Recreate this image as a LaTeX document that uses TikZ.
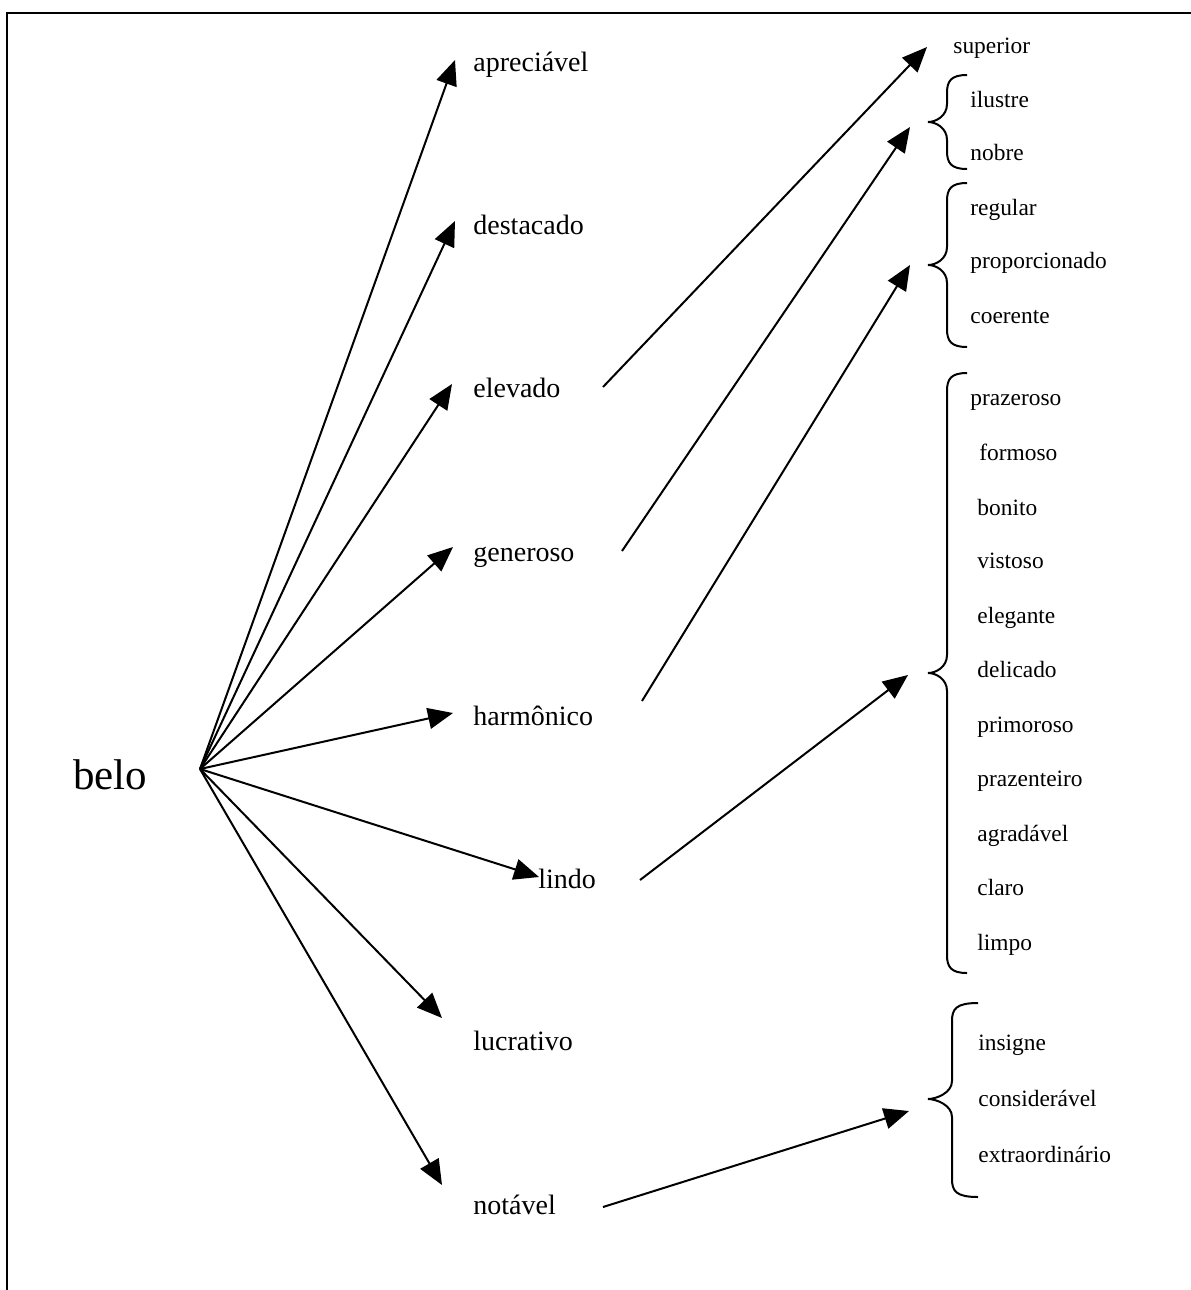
\documentclass[tikz,border=0pt]{standalone}
\usepackage{fontspec}
\setmainfont{Liberation Serif}
\usetikzlibrary{arrows.meta}
\begin{document}
\begin{tikzpicture}[x=0.5pt,y=-0.5pt,
  mid/.style={anchor=base west,inner sep=0pt,font=\fontsize{14}{16}\selectfont},
  leaf/.style={anchor=base west,inner sep=0pt,font=\fontsize{11.7}{14}\selectfont},
  root/.style={anchor=base west,inner sep=0pt,font=\fontsize{21.5}{24}\selectfont},
  link/.style={line width=1pt,-{Triangle[length=12.5pt,width=10.5pt]}},
  curly/.style={line width=1pt}]
\useasboundingbox (0,0) rectangle (1190,1290);
% frame (open on the right and at the bottom)
\draw[line width=1pt] (7,1295) -- (7,13) -- (1195,13);

% root word and its hub
\node[root] (belo) at (73,789) {belo};
\coordinate (hub) at (200,769);

% first level
\node[mid] (apreciavel) at (473,71) {apreciável};
\node[mid] (destacado) at (473,234) {destacado};
\node[mid] (elevado) at (473,397) {elevado};
\node[mid] (generoso) at (473,561) {generoso};
\node[mid] (harmonico) at (473,725) {harmônico};
\node[mid] (lindo) at (538,888) {lindo};
\node[mid] (lucrativo) at (473,1050) {lucrativo};
\node[mid] (notavel) at (473,1214) {notável};

% arrow tips of the first level
\coordinate (tA) at (455,60);
\coordinate (tD) at (455,221);
\coordinate (tE) at (452,384);
\coordinate (tG) at (453,547);
\coordinate (tH) at (453,713);
\coordinate (tL) at (539,877);
\coordinate (tU) at (442,1018);
\coordinate (tN) at (442,1185);
\foreach \t in {tA,tD,tE,tG,tH,tL,tU,tN}
  \draw[link] (hub) -- (\t);

% second level words
\node[leaf] (superior) at (953,54) {superior};
\node[leaf] (ilustre) at (970,107) {ilustre};
\node[leaf] (nobre) at (970,160) {nobre};
\node[leaf] (regular) at (970,215) {regular};
\node[leaf] (proporcionado) at (970,268) {proporcionado};
\node[leaf] (coerente) at (970,323) {coerente};
\node[leaf] (prazeroso) at (970,405) {prazeroso};
\node[leaf] (formoso) at (979,460) {formoso};
\node[leaf] (bonito) at (977,515) {bonito};
\node[leaf] (vistoso) at (977,568) {vistoso};
\node[leaf] (elegante) at (977,623) {elegante};
\node[leaf] (delicado) at (977,677) {delicado};
\node[leaf] (primoroso) at (977,732) {primoroso};
\node[leaf] (prazenteiro) at (977,786) {prazenteiro};
\node[leaf] (agradavel) at (977,841) {agradável};
\node[leaf] (claro) at (977,895) {claro};
\node[leaf] (limpo) at (977,950) {limpo};
\node[leaf] (insigne) at (978,1050) {insigne};
\node[leaf] (consideravel) at (978,1106) {considerável};
\node[leaf] (extraordinario) at (978,1162) {extraordinário};

% left curly braces: tip x, spine x, end x, top, middle, bottom
\newcommand{\curlybrace}[6]{%
  \draw[curly] (#3,#4) .. controls (#2+4,#4) and (#2,#4+6) .. (#2,#4+18)
    -- (#2,#5-18) .. controls (#2,#5-6) and (#1+8,#5) .. (#1,#5)
    .. controls (#1+8,#5) and (#2,#5+6) .. (#2,#5+18)
    -- (#2,#6-18) .. controls (#2,#6-6) and (#2+4,#6) .. (#3,#6);}
\curlybrace{928}{947}{967}{75}{122}{169}
\curlybrace{928}{947}{967}{183}{265}{347}
\curlybrace{928}{947}{967}{373}{673}{973}
\curlybrace{928}{952}{978}{1003}{1099}{1197}

% second level arrows
\coordinate (sE) at (603,387);
\coordinate (sG) at (622,551);
\coordinate (sH) at (642,701);
\coordinate (sL) at (640,880);
\coordinate (sN) at (603,1207);
\coordinate (bSup) at (927,47);
\coordinate (bIl) at (910,127);
\coordinate (bReg) at (910,265);
\coordinate (bPra) at (908,675);
\coordinate (bIns) at (909,1111);
\draw[link] (sE) -- (bSup);
\draw[link] (sG) -- (bIl);
\draw[link] (sH) -- (bReg);
\draw[link] (sL) -- (bPra);
\draw[link] (sN) -- (bIns);
\end{tikzpicture}
\end{document}
